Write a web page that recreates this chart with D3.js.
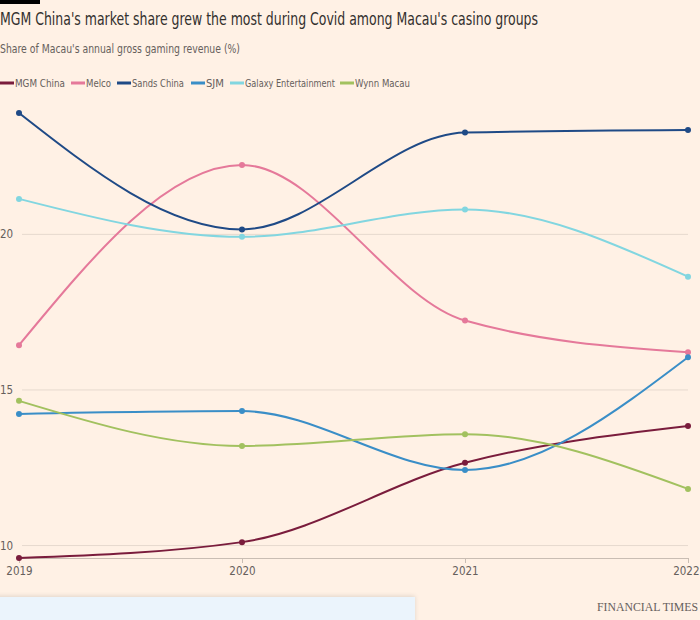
<!DOCTYPE html>
<html>
<head>
<meta charset="utf-8">
<script src="https://cdn.jsdelivr.net/npm/d3@7"></script>
<style>
  html, body { margin: 0; padding: 0; background: #fff1e5; }
  svg { display: block; }
  .narrow { font-family: "Liberation Sans Narrow", "DejaVu Sans Condensed", "Roboto", sans-serif; }
</style>
</head>
<body>
<svg id="chart" width="700" height="620"></svg>
<script>
// ---- Data ----
const years = ["2019", "2020", "2021", "2022"];
const seriesNames = ["MGM China", "Melco", "Sands China", "SJM", "Galaxy Entertainment", "Wynn Macau"];
const mgmChina = [9.6, 10.11, 12.66, 13.84];
const melco = [16.44, 22.23, 17.23, 16.21];
const sandsChina = [23.9, 20.16, 23.27, 23.35];
const sjm = [14.23, 14.32, 12.43, 16.05];
const galaxy = [21.14, 19.92, 20.80, 18.64];
const wynnMacau = [14.65, 13.20, 13.58, 11.82];
const yTicks = [10, 15, 20];
const colors = ["#7a1c3c", "#e5799a", "#1f4a86", "#3a8ec7", "#82d6e0", "#a2c15f"];

const seriesValues = [mgmChina, melco, sandsChina, sjm, galaxy, wynnMacau];
const series = seriesNames.map((name, i) => ({ name, color: colors[i], values: seriesValues[i].map((v, j) => ({ year: years[j], value: v })) }));

// ---- Layout ----
const svg = d3.select("#chart");
const W = 700, H = 620;
svg.append("rect").attr("width", W).attr("height", H).attr("fill", "#fff1e5");

// top black bar
svg.append("rect").attr("x", 0).attr("y", 0).attr("width", 40).attr("height", 4).attr("fill", "#000");

// title
svg.append("text").attr("class", "narrow")
  .attr("x", 0).attr("y", 25)
  .attr("font-size", 18).attr("fill", "#33302e")
  .attr("textLength", 538).attr("lengthAdjust", "spacingAndGlyphs")
  .text("MGM China's market share grew the most during Covid among Macau's casino groups");

// subtitle
svg.append("text").attr("class", "narrow")
  .attr("x", 0).attr("y", 53)
  .attr("font-size", 12.5).attr("fill", "#66605c")
  .attr("textLength", 240).attr("lengthAdjust", "spacingAndGlyphs")
  .text("Share of Macau's annual gross gaming revenue (%)");

// legend
const legendX = [0, 71, 117, 191, 230, 340];
const legendTextW = [50, 25, 52, 18, 90, 55];
const legend = svg.append("g").attr("transform", "translate(0,83)");
series.forEach((s, i) => {
  const g = legend.append("g").attr("transform", `translate(${legendX[i]},0)`);
  g.append("rect").attr("x", 0).attr("y", -1.5).attr("width", 14).attr("height", 3).attr("fill", s.color);
  g.append("text").attr("class", "narrow")
    .attr("x", 15).attr("y", 3.8)
    .attr("font-size", 10.5).attr("fill", "#66605c")
    .attr("textLength", legendTextW[i]).attr("lengthAdjust", "spacingAndGlyphs")
    .text(s.name);
});

// scales
const allValues = seriesValues.flat();
const x = d3.scalePoint().domain(years).range([19, 688]);
const y = d3.scaleLinear().domain(d3.extent(allValues)).range([558, 113]);

// gridlines + y labels
const grid = svg.append("g");
yTicks.forEach(t => {
  grid.append("line")
    .attr("x1", 22).attr("x2", 688)
    .attr("y1", y(t)).attr("y2", y(t))
    .attr("stroke", "#e6d9ce").attr("stroke-width", 1);
  grid.append("text").attr("class", "narrow")
    .attr("x", 0).attr("y", y(t)).attr("dy", "0.35em")
    .attr("font-size", 11.5).attr("fill", "#66605c")
    .text(t);
});

// x axis
const xAxis = d3.axisBottom(x).tickSize(5).tickPadding(4);
const xg = svg.append("g").attr("transform", `translate(0,${y.range()[0]})`).call(xAxis);
xg.select(".domain").attr("stroke", "#c9bdb3").attr("d", `M19,0.5H688`);
xg.selectAll(".tick line").attr("stroke", "#c9bdb3");
xg.selectAll(".tick text").attr("class", "narrow").attr("font-size", 11.5).attr("fill", "#66605c")
  .attr("font-family", null);
xg.selectAll(".tick").filter(d => d === years[years.length - 1]).select("text")
  .attr("text-anchor", "end").attr("x", 11);

// lines
const line = d3.line().x(d => x(d.year)).y(d => y(d.value)).curve(d3.curveMonotoneX);
const lines = svg.append("g");
series.forEach(s => {
  lines.append("path").datum(s.values)
    .attr("fill", "none").attr("stroke", s.color).attr("stroke-width", 2)
    .attr("d", line);
  lines.selectAll(null).data(s.values).enter().append("circle")
    .attr("cx", d => x(d.year)).attr("cy", d => y(d.value)).attr("r", 3)
    .attr("fill", s.color);
});

// bottom overlay box
const defs = svg.append("defs");
const f = defs.append("filter").attr("id", "sh").attr("x", "-10%").attr("y", "-50%").attr("width", "120%").attr("height", "200%");
f.append("feDropShadow").attr("dx", 0).attr("dy", -1).attr("stdDeviation", 2).attr("flood-color", "#000").attr("flood-opacity", 0.12);
svg.append("rect").attr("x", -5).attr("y", 597).attr("width", 420).attr("height", 30)
  .attr("fill", "#ebf4fc").attr("filter", "url(#sh)");

// FT credit
svg.append("text")
  .attr("x", 698).attr("y", 611).attr("text-anchor", "end")
  .attr("font-family", "'Liberation Serif', 'DejaVu Serif', serif")
  .attr("font-size", 11.5).attr("fill", "#66605c")
  .attr("textLength", 101).attr("lengthAdjust", "spacingAndGlyphs")
  .text("FINANCIAL TIMES");
</script>
</body>
</html>
